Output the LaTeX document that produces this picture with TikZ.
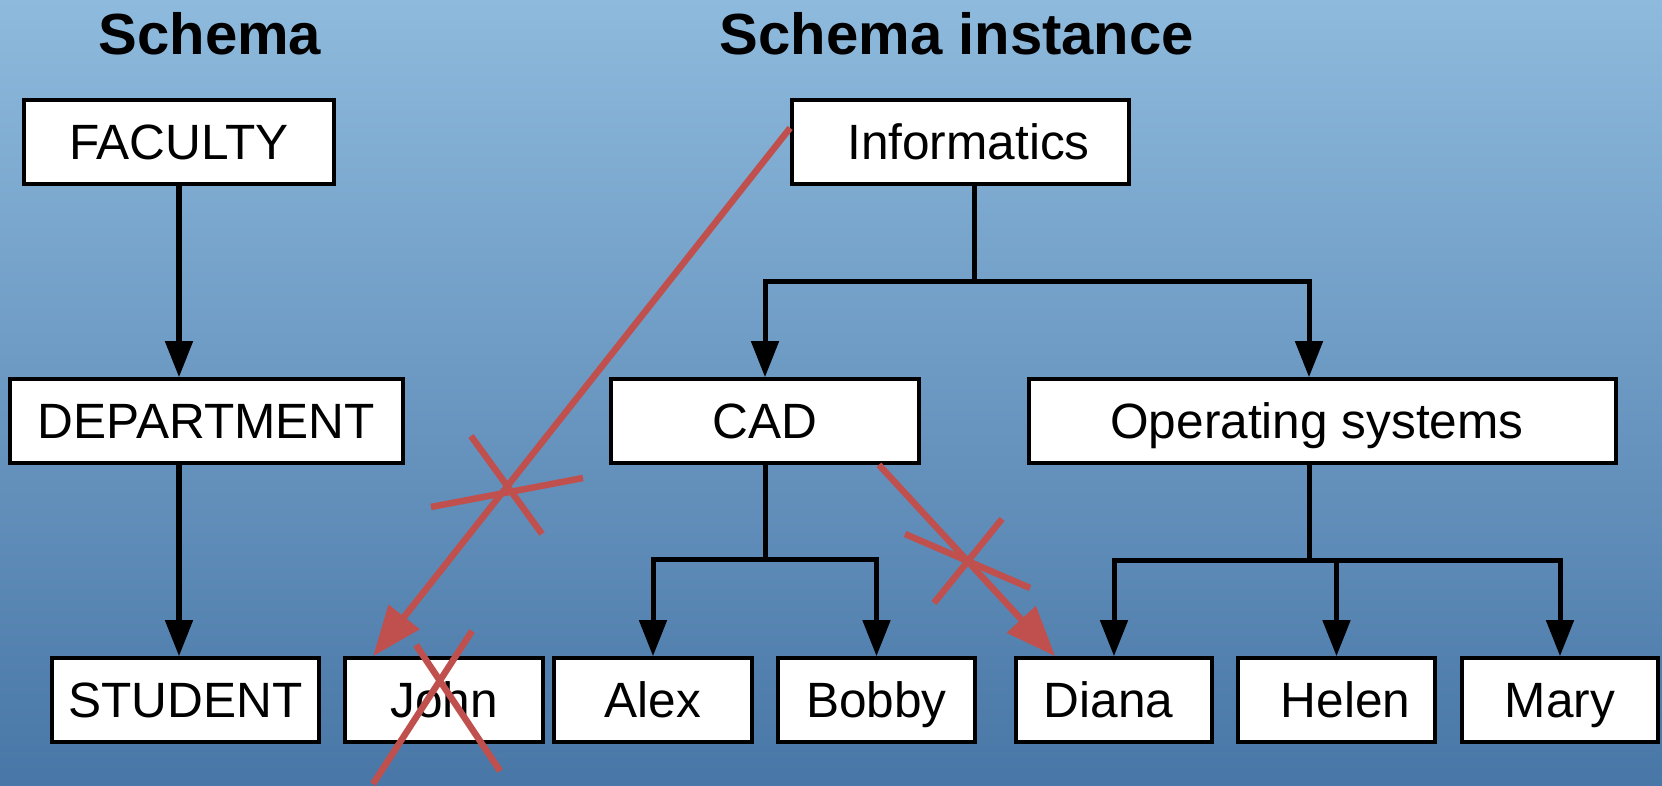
\documentclass[tikz,border=0pt]{standalone}
\usepackage{fontspec}
\setmainfont{Liberation Sans}
\usetikzlibrary{arrows.meta,calc}
\definecolor{bgtop}{RGB}{142,186,221}
\definecolor{bgbot}{RGB}{72,118,166}
\definecolor{crossred}{RGB}{192,80,77}

\begin{document}
\begin{tikzpicture}[x=0.01cm,y=-0.01cm,
  box/.style={draw=black, fill=white, line width=0.036cm, minimum height=0.84cm,
    inner sep=0pt, text height=0.35cm, text depth=0pt,
    font=\fontsize{14.1pt}{16pt}\selectfont},
  title/.style={font=\bfseries\fontsize{16.5pt}{20pt}\selectfont, anchor=base},
  link/.style={draw=black, line width=0.05cm, line join=miter},
  linkarrow/.style={link, -{Triangle[length=0.36cm,width=0.27cm]}},
  redarrow/.style={draw=crossred, line width=0.065cm,
    -{Triangle[length=0.5cm,width=0.38cm]}},
  strike/.style={draw=crossred, line width=0.065cm}]

% background
\useasboundingbox (0,0) rectangle (1662,786);
\fill[top color=bgtop, bottom color=bgbot] (0,0) rectangle (1662,786);

% headings
\node[title] (schemaTitle) at (210,55) {Schema};
\node[title] (instanceTitle) at (957,55) {Schema instance};

% schema levels
\node[box, minimum width=3.10cm] (faculty) at (179,142) {FACULTY};
\node[box, minimum width=3.93cm] (department) at (206.5,421) {DEPARTMENT};
\node[box, minimum width=2.67cm] (student) at (185.5,700) {STUDENT};

% instance tree
\node[box, minimum width=3.37cm] (informatics) at (960.5,142) {\kern0.16cm Informatics};
\node[box, minimum width=3.08cm] (cad) at (765,421) {CAD};
\node[box, minimum width=5.87cm] (os) at (1322.5,421) {Operating systems\kern0.11cm};

\node[box, minimum width=1.98cm] (john) at (444,700) {John};
\node[box, minimum width=1.98cm] (alex) at (653,700) {Alex};
\node[box, minimum width=1.97cm] (bobby) at (876.5,700) {Bobby};
\node[box, minimum width=1.96cm] (diana) at (1114,700) {Diana\kern0.11cm};
\node[box, minimum width=1.97cm] (helen) at (1336.5,700) {\kern0.18cm Helen};
\node[box, minimum width=1.96cm] (mary) at (1560,700) {Mary};

% schema connectors
\draw[linkarrow] (faculty.south) -- (faculty.south |- department.north);
\draw[linkarrow] (faculty.south |- department.south) -- (faculty.south |- student.north);

% Informatics branches
\coordinate (ijoin) at (974,282);
\coordinate (osin) at ($(os.north)+(-13.5,0)$);
\draw[link] (informatics.south -| ijoin) -- (ijoin);
\draw[linkarrow] (ijoin) -| (cad.north);
\draw[linkarrow] (ijoin) -| (osin);

% CAD branches
\coordinate (cjoin) at (765,560);
\draw[link] (cad.south) -- (cjoin);
\draw[linkarrow] (cjoin) -| (alex.north);
\draw[linkarrow] (cjoin) -| (bobby.north);

% Operating systems branches
\coordinate (ojoin) at (1309,561);
\draw[link] (os.south -| ojoin) -- (ojoin);
\draw[linkarrow] (ojoin) -| (diana.north);
\draw[linkarrow] (ojoin) -| (helen.north);
\draw[linkarrow] (ojoin) -| (mary.north);

% forbidden links
\draw[redarrow] ($(informatics.west)+(0,-14)$) -- ($(john.north west)+(30,0)$);
\draw[redarrow] ($(cad.south east)+(-42,0)$) -- ($(diana.north west)+(41,0)$);

% strike marks
\draw[strike] (471,436) -- (542,534);
\draw[strike] (431,507) -- (583,478);
\draw[strike] (905,534) -- (1030,588);
\draw[strike] (934,603) -- (1002,519);
\draw[strike] (416,645) -- (500,771);
\draw[strike] (373,784) -- (472,631);
\end{tikzpicture}
\end{document}
